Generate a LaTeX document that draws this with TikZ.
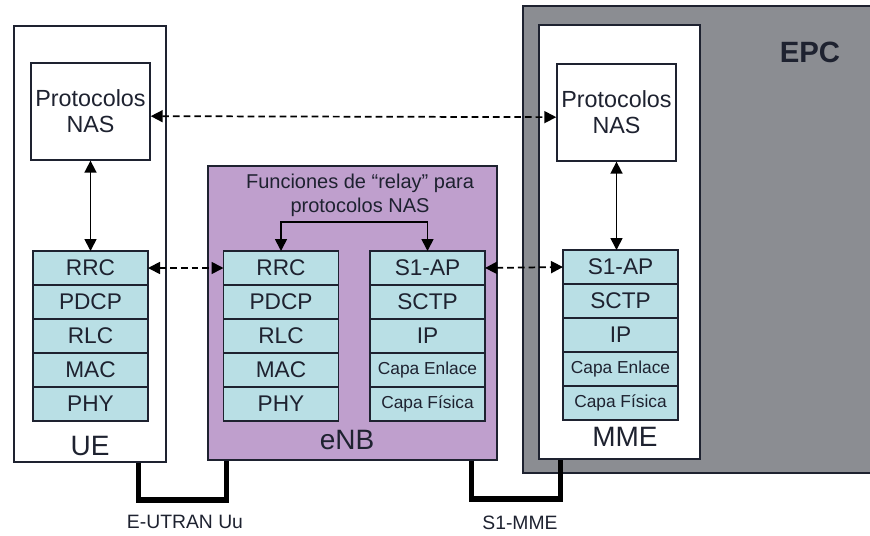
\documentclass[tikz,border=0pt]{standalone}
\usepackage{fontspec}
\setmainfont{Liberation Sans}
\usetikzlibrary{arrows.meta, positioning}
\definecolor{ink}{HTML}{1E2230}
\definecolor{cell}{HTML}{B9DFE5}
\definecolor{lilac}{HTML}{BF9FCD}
\definecolor{core}{HTML}{8B8D92}

\begin{document}
\begin{tikzpicture}[x=0.75pt, y=-0.75pt, node distance=0pt, text=ink,
   frame/.style={rectangle, draw=ink, line width=1.1pt, fill=white},
   nas/.style={rectangle, draw=ink, line width=1pt, fill=white,
     minimum width=86.25pt, minimum height=72.75pt, align=center,
     font=\fontsize{17.5}{19.5}\selectfont},
   layer/.style={rectangle, draw=ink, line width=1pt, fill=cell,
     minimum width=86.25pt, minimum height=25.5pt, inner sep=0pt,
     outer sep=0pt, font=\fontsize{17}{17}\selectfont},
   thinlayer/.style={layer, font=\fontsize{13}{13}\selectfont},
   tag/.style={font=\fontsize{21}{21}\selectfont},
   ar/.style={{Triangle[length=9pt, width=9pt]}-{Triangle[length=9pt, width=9pt]},
     line width=1.3pt, draw=black},
   dar/.style={ar, dash pattern=on 5pt off 3pt},
   link/.style={line width=3.8pt, draw=black}]
 \useasboundingbox (0,0) rectangle (870,535);
 % containers
 \node[frame, fill=core, minimum width=267.75pt, minimum height=350.25pt] (epc) at (701.5,239.5) {};
 \node[font=\bfseries\fontsize{22}{22}\selectfont] (epclbl) at (810,52) {EPC};
 \node[frame, minimum width=114pt, minimum height=327pt] (ue) at (90,244) {};
 \node[frame, fill=lilac, minimum width=216.75pt, minimum height=220.5pt] (enb) at (352.5,313) {};
 \node[frame, minimum width=120.75pt, minimum height=325.5pt] (mme) at (619.5,242) {};
 \node[nas] (uenas) at (90.5,111.5) {Protocolos\\NAS};
 \node[nas] (mmenas) at (616.5,112.5) {Protocolos\\NAS};
 % UE stack
 \node[layer] (uerrc) at (90.5,268) {RRC};
 \node[layer, below=of uerrc] (uepdcp) {PDCP};
 \node[layer, below=of uepdcp] (uerlc) {RLC};
 \node[layer, below=of uerlc] (uemac) {MAC};
 \node[layer, below=of uemac] (uephy) {PHY};
 % eNB stacks
 \node[layer] (enbrrc) at (281,268) {RRC};
 \node[layer, below=of enbrrc] (enbpdcp) {PDCP};
 \node[layer, below=of enbpdcp] (enbrlc) {RLC};
 \node[layer, below=of enbrlc] (enbmac) {MAC};
 \node[layer, below=of enbmac] (enbphy) {PHY};
 \node[layer] (enbs1ap) at (427.5,268) {S1-AP};
 \node[layer, below=of enbs1ap] (enbsctp) {SCTP};
 \node[layer, below=of enbsctp] (enbip) {IP};
 \node[thinlayer, below=of enbip] (enblink) {Capa Enlace};
 \node[thinlayer, below=of enblink] (enbphys) {Capa Física};
 % MME stack
 \node[layer] (mmes1ap) at (620.5,267) {S1-AP};
 \node[layer, below=of mmes1ap] (mmesctp) {SCTP};
 \node[layer, below=of mmesctp] (mmeip) {IP};
 \node[thinlayer, below=of mmeip] (mmelink) {Capa Enlace};
 \node[thinlayer, below=of mmelink] (mmephys) {Capa Física};
 \node[tag] (uelbl) at (90,446) {UE};
 \node[tag] (enblbl) at (347,440) {eNB};
 \node[tag] (mmelbl) at (625,437) {MME};
 \node[align=center, font=\fontsize{15}{18}\selectfont] (relay) at (360,195)
   {Funciones de “relay” para\\protocolos NAS};
 \coordinate (fork) at (352,222);
 \draw[ar] (enbrrc.north) |- (fork) -| (enbs1ap.north);
 \draw[ar] (uenas.south) -- (uerrc.north);
 \draw[ar] (mmenas.south) -- (mmenas.south |- mmes1ap.north);
 \draw[dar] ([yshift=-3.5pt]uenas.east) -- ([yshift=-3.5pt]mmenas.west);
 \draw[dar] (uerrc.east) -- (enbrrc.west);
 \draw[dar] (enbs1ap.east) -- (mmes1ap.west);
 % interfaces
 \coordinate (uu) at (180,500);
 \coordinate (s1) at (515,499);
 \draw[link] ([xshift=-21pt]ue.south east) |- (uu) -| ([xshift=14.25pt]enb.south west);
 \draw[link] ([xshift=-19.5pt]enb.south east) |- (s1) -| ([xshift=16.5pt]mme.south west);
 \node[font=\fontsize{14.5}{14.5}\selectfont] (uulbl) at (185,522) {E-UTRAN Uu};
 \node[font=\fontsize{14.5}{14.5}\selectfont] (s1lbl) at (520,523) {S1-MME};
\end{tikzpicture}
\end{document}
